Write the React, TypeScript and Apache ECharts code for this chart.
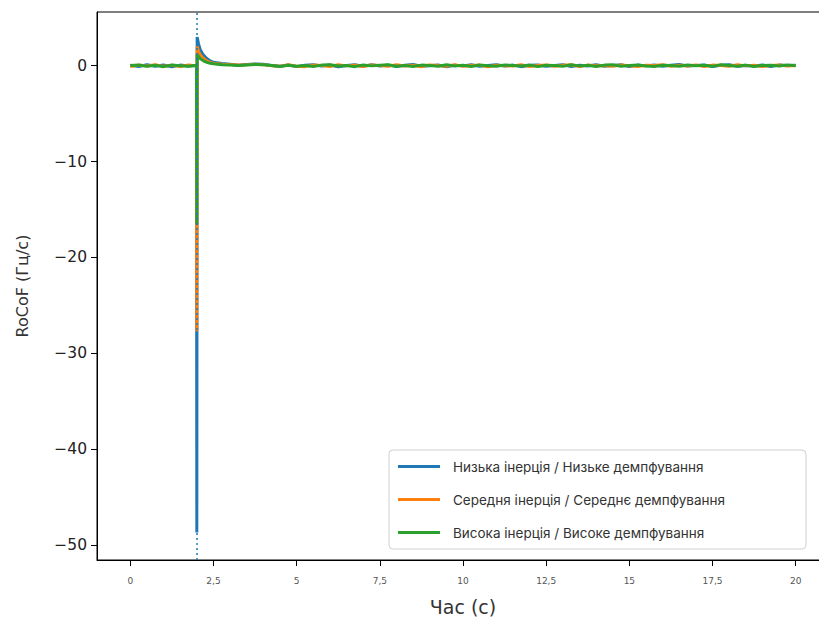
import React, { useEffect, useRef } from "react";
import * as echarts from "echarts";

const TIME = [
  0, 0.25, 0.5, 0.75, 1, 1.25, 1.5, 1.75, 1.99,
  2, 2.01, 2.05, 2.1, 2.2, 2.3, 2.4, 2.5,
  2.75, 3, 3.25, 3.5, 3.75, 4, 4.25, 4.5, 4.75, 5,
  5.25, 5.5, 5.75, 6, 6.25, 6.5, 6.75, 7, 7.25, 7.5,
  7.75, 8, 8.25, 8.5, 8.75, 9, 9.25, 9.5, 9.75, 10,
  10.25, 10.5, 10.75, 11, 11.25, 11.5, 11.75, 12, 12.25, 12.5,
  12.75, 13, 13.25, 13.5, 13.75, 14, 14.25, 14.5, 14.75, 15,
  15.25, 15.5, 15.75, 16, 16.25, 16.5, 16.75, 17, 17.25, 17.5,
  17.75, 18, 18.25, 18.5, 18.75, 19, 19.25, 19.5, 19.75, 20,
];

const LOW = [
  0.05, -0.08, 0.1, -0.05, 0.08, -0.12, 0.06, -0.04, 0.03,
  -48.7, 3.0, 2.3, 1.7, 1.1, 0.75, 0.5, 0.35,
  0.22, 0.15, 0.05, 0.12, 0.18, 0.14, 0.03, -0.06, 0.08, -0.1,
  0.05, 0.1, -0.04, 0.07, -0.12, 0.02, 0.09, -0.06, 0.11, -0.03,
  0.06, -0.09, 0.04, 0.12, -0.05, 0.0, 0.08, -0.11, 0.05, -0.02,
  0.1, -0.07, 0.03, 0.09, -0.04, 0.06, -0.1, 0.04, 0.07, -0.06,
  0.02, 0.11, -0.08, 0.05, -0.03, 0.09, -0.05, 0.03, 0.1, -0.09,
  0.06, -0.02, 0.08, -0.07, 0.04, 0.12, -0.04, 0.01, 0.07, -0.1,
  0.05, 0.09, -0.06, 0.03, -0.02, 0.08, -0.08, 0.06, 0.02, 0.04,
];

const MID = [
  -0.1, 0.06, -0.04, 0.1, -0.07, 0.05, -0.09, 0.07, -0.02,
  -27.7, 2.0, 1.5, 1.15, 0.75, 0.5, 0.35, 0.25,
  0.16, 0.12, 0.06, 0.1, 0.15, 0.11, 0.0, -0.07, 0.09, -0.05,
  -0.1, 0.06, 0.03, -0.08, 0.1, -0.02, 0.05, -0.09, 0.07, 0.02,
  -0.06, 0.11, -0.03, 0.04, -0.1, 0.08, 0.01, -0.05, 0.09, -0.07,
  0.03, 0.06, -0.11, 0.05, 0.0, -0.04, 0.1, -0.08, 0.02, 0.07,
  -0.05, 0.04, 0.09, -0.1, 0.06, -0.01, 0.03, -0.07, 0.08, 0.0,
  -0.09, 0.05, 0.02, 0.1, -0.06, 0.04, -0.03, 0.08, -0.1, 0.06,
  0.01, -0.05, 0.09, -0.02, 0.05, -0.08, 0.03, 0.07, -0.04, 0.02,
];

const HIGH = [
  0.02, 0.08, -0.06, 0.04, -0.1, 0.07, 0.0, -0.05, 0.04,
  -16.6, 1.2, 0.95, 0.75, 0.5, 0.35, 0.25, 0.2,
  0.1, 0.08, 0.02, 0.07, 0.12, 0.09, 0.01, -0.08, 0.05, -0.07,
  0.03, -0.09, 0.06, 0.1, -0.04, 0.02, -0.1, 0.07, -0.02, 0.05,
  0.09, -0.06, 0.01, -0.08, 0.06, 0.03, -0.05, 0.1, -0.03, 0.04,
  -0.09, 0.07, 0.0, -0.06, 0.08, 0.02, -0.04, 0.06, -0.1, 0.05,
  0.03, -0.07, 0.09, -0.02, 0.04, -0.08, 0.06, 0.1, -0.05, 0.01,
  0.07, -0.03, -0.09, 0.05, 0.02, -0.06, 0.08, -0.01, 0.04, -0.07,
  0.1, 0.03, -0.05, 0.06, -0.09, 0.02, 0.05, -0.03, 0.07, 0.0,
];

const SERIES_NAMES = [
  "Низька інерція / Низьке демпфування",
  "Середня інерція / Середнє демпфування",
  "Висока інерція / Високе демпфування",
];
const COLORS = ["#1f77b4", "#ff7f0e", "#2ca02c"];
const X_TICKS = [0, 2.5, 5, 7.5, 10, 12.5, 15, 17.5, 20];
const Y_TICKS = [0, -10, -20, -30, -40, -50];
const EVENT_TIME = 2;

export default function App() {
  const ref = useRef<HTMLDivElement>(null);
  useEffect(() => {
    if (!ref.current) return;
    const chart = echarts.init(ref.current, null, { renderer: "svg" });
    const values = [LOW, MID, HIGH];
    const series: any[] = values.map((vals, i) => ({
      name: SERIES_NAMES[i],
      type: "line",
      data: TIME.map((t, j) => [t, vals[j]]),
      showSymbol: false,
      symbol: "none",
      lineStyle: { color: COLORS[i], width: 3 },
      itemStyle: { color: COLORS[i] },
      z: 2 + i,
      markLine:
        i === 0
          ? {
              silent: true,
              symbol: "none",
              label: { show: false },
              lineStyle: { color: COLORS[0], type: [2, 3], width: 1.5 },
              data: [{ xAxis: EVENT_TIME }],
            }
          : undefined,
    }));
    chart.setOption({
      animation: false,
      grid: {
        left: 97,
        top: 12,
        width: 732,
        bottom: 64,
        outerBoundsMode: "none",
        containLabel: false,
        show: true,
        borderColor: "#000",
        borderWidth: 1,
        backgroundColor: "transparent",
      },
      legend: {
        orient: "vertical",
        left: 389,
        top: 450,
        padding: [9, 81, 9, 9],
        itemWidth: 42,
        itemHeight: 3,
        itemGap: 18,
        icon: "rect",
        backgroundColor: "#fff",
        borderColor: "#d0d0d0",
        borderWidth: 1,
        borderRadius: 4,
        textStyle: {
          fontSize: 13.5,
          color: "#333",
          lineHeight: 15,
          padding: [0, 0, 0, 8],
          fontFamily: "Inter, 'Noto Sans', sans-serif",
        },
        data: SERIES_NAMES,
      },
      xAxis: {
        type: "value",
        min: -1,
        max: 21,
        name: "Час (с)",
        nameLocation: "middle",
        nameGap: 37,
        nameTextStyle: { fontSize: 19, color: "#333", fontFamily: "DejaVu Sans" },
        splitLine: { show: false },
        axisLine: { show: true, onZero: false, lineStyle: { color: "#000", width: 1 } },
        axisTick: { show: true, length: 6, lineStyle: { color: "#000" }, customValues: X_TICKS },
        axisLabel: {
          customValues: X_TICKS,
          margin: 16,
          fontSize: 9,
          color: "#555",
          fontFamily: "DejaVu Sans",
          formatter: (v: number) => String(v).replace(".", ","),
        },
      },
      yAxis: {
        type: "value",
        min: -51.56,
        max: 5.6,
        name: "RoCoF (Гц/с)",
        nameLocation: "middle",
        nameGap: 67,
        nameRotate: 90,
        nameTextStyle: { fontSize: 16, color: "#333", fontFamily: "DejaVu Sans" },
        splitLine: { show: false },
        axisLine: { show: true, onZero: false, lineStyle: { color: "#000", width: 1 } },
        axisTick: { show: true, length: 6, lineStyle: { color: "#000" }, customValues: Y_TICKS },
        axisLabel: {
          customValues: Y_TICKS,
          margin: 10,
          fontSize: 15.5,
          color: "#222",
          fontFamily: "DejaVu Sans",
          formatter: (v: number) => String(v).replace("-", "\u2212"),
        },
      },
      series,
    });
    return () => chart.dispose();
  }, []);
  return (
    <div
      ref={ref}
      style={{ position: "absolute", left: 0, top: 0, width: 819, height: 624, background: "#fff" }}
    />
  );
}
